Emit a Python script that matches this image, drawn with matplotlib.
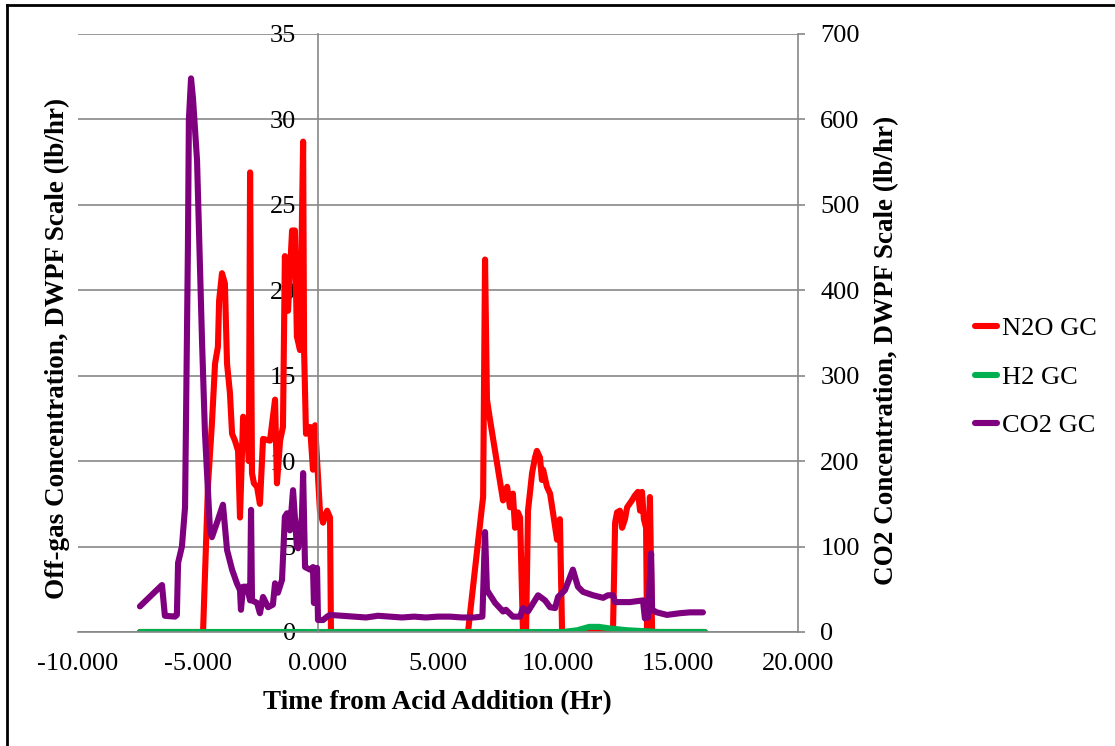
import matplotlib
matplotlib.use("Agg")
import matplotlib.pyplot as plt
from matplotlib.lines import Line2D
from matplotlib.ticker import FormatStrFormatter, MultipleLocator

plt.rcParams["font.family"] = ["Liberation Serif", "DejaVu Serif"]
plt.rcParams["axes.unicode_minus"] = False

# N2O off-gas rate (lb/hr), left axis
n2o_t = [-7.42, -4.79, -4.58, -4.42, -4.29, -4.17, -4.12, -4.00, -3.88, -3.79,
         -3.67, -3.58, -3.46, -3.33, -3.25, -3.12, -2.96, -2.88, -2.83, -2.75,
         -2.67, -2.54, -2.42, -2.29, -2.00, -1.79, -1.71, -1.58, -1.46, -1.38,
         -1.25, -1.08, -0.96, -0.88, -0.75, -0.62, -0.58, -0.50, -0.33, -0.21,
         -0.12, 0.08, 0.21, 0.38, 0.50, 0.54, 6.25, 6.83, 6.88, 6.96,
         7.04, 7.17, 7.71, 7.88, 8.00, 8.12, 8.21, 8.33, 8.42, 8.54,
         8.67, 8.75, 8.92, 9.04, 9.12, 9.25, 9.33, 9.38, 9.54, 9.67,
         9.79, 9.96, 10.08, 10.17, 12.29, 12.38, 12.46, 12.58, 12.67, 12.79,
         12.88, 13.08, 13.21, 13.33, 13.42, 13.50, 13.58, 13.67, 13.71, 13.83,
         13.92, 16.12]
n2o_v = [0.0, 0.0, 8.7, 12.2, 15.7, 16.7, 19.4, 21.0, 20.4, 15.7,
         14.0, 11.6, 11.2, 10.6, 6.7, 12.6, 12.2, 10.0, 26.9, 9.3,
         8.7, 8.5, 7.5, 11.3, 11.2, 13.6, 8.7, 11.2, 12.0, 22.0,
         18.8, 23.5, 23.5, 17.3, 16.5, 28.7, 16.5, 11.6, 12.0, 9.5,
         12.1, 7.1, 6.4, 7.1, 6.7, 0.0, 0.0, 7.3, 7.9, 21.8,
         13.6, 12.4, 7.7, 8.5, 7.3, 8.1, 6.1, 7.0, 6.7, 0.0,
         0.0, 7.1, 9.3, 10.2, 10.6, 10.2, 8.9, 9.5, 8.5, 8.1,
         7.0, 5.4, 6.6, 0.0, 0.0, 6.4, 7.0, 7.1, 6.1, 6.6,
         7.3, 7.7, 8.0, 8.2, 7.1, 8.2, 6.6, 6.1, 0.0, 7.9,
         0.0, 0.0]

# H2 off-gas rate (lb/hr), left axis
h2_t = [-7.42, 10.2, 10.8, 11.3, 11.7, 12.2, 12.9, 13.6, 14.2, 16.12]
h2_v = [0.0, 0.0, 0.1, 0.3, 0.3, 0.2, 0.1, 0.05, 0.0, 0.0]

# CO2 off-gas rate (lb/hr), right axis
co2_t = [-7.42, -6.50, -6.38, -5.96, -5.88, -5.83, -5.67, -5.54, -5.42, -5.38,
         -5.29, -5.21, -5.04, -4.83, -4.71, -4.50, -4.42, -4.21, -3.96, -3.79,
         -3.58, -3.38, -3.25, -3.21, -3.12, -2.96, -2.83, -2.79, -2.75, -2.54,
         -2.42, -2.29, -2.08, -1.88, -1.79, -1.67, -1.50, -1.38, -1.29, -1.17,
         -1.04, -0.88, -0.83, -0.67, -0.62, -0.54, -0.33, -0.21, -0.17, -0.04,
         0.00, 0.21, 0.38, 0.50, 1.0, 1.5, 2.0, 2.5, 3.0, 3.5,
         4.0, 4.5, 5.0, 5.5, 6.0, 6.5, 6.85, 6.96, 7.04, 7.38,
         7.71, 7.83, 8.12, 8.42, 8.54, 8.75, 9.17, 9.46, 9.67, 9.88,
         10.00, 10.29, 10.62, 10.83, 11.04, 11.46, 11.88, 12.08, 12.29, 12.38,
         13.00, 13.54, 13.62, 13.75, 13.88, 13.92, 14.12, 14.54, 15.08, 15.50,
         16.04]
co2_v = [30, 55, 19, 18, 20, 81, 100, 146, 450, 600,
         648, 625, 552, 338, 233, 119, 111, 128, 149, 96,
         73, 57, 49, 26, 53, 53, 37, 143, 37, 34,
         22, 41, 29, 32, 57, 46, 61, 135, 139, 119,
         166, 100, 98, 135, 186, 76, 73, 76, 34, 75,
         14, 14, 18, 20, 19, 18, 17, 19, 18, 17,
         18, 17, 18, 18, 17, 17, 18, 117, 49, 34,
         24, 26, 18, 18, 28, 24, 43, 37, 29, 28,
         41, 49, 73, 53, 47, 43, 40, 43, 43, 35,
         35, 37, 16, 17, 92, 26, 23, 20, 22, 23,
         23]

left_ticks = list(range(0, 36, 5))
right_ticks = list(range(0, 701, 100))

GRID = "#878787"
LW = 4.4
FS_TICK = 19
FS_LABEL = 19.5

fig = plt.figure(figsize=(11.15, 7.46), dpi=100)
ax = fig.add_axes([78 / 1115, 1 - 632 / 746, 720 / 1115, 598 / 746])
ax2 = ax.twinx()

style = dict(lw=LW, solid_joinstyle="round", solid_capstyle="round")
ax.plot(n2o_t, n2o_v, color="#ff0000", label="N2O GC", **style)
ax.plot(h2_t, h2_v, color="#00b050", label="H2 GC", **style)
ax2.plot(co2_t, co2_v, color="#7f007f", label="CO2 GC", **style)

ax.set_xlim(-10, 20)
ax.set_ylim(0, 35)
ax2.set_ylim(0, 700)
ax.xaxis.set_major_locator(MultipleLocator(5))
ax.xaxis.set_major_formatter(FormatStrFormatter("%.3f"))
ax.set_yticks(left_ticks)
ax2.set_yticks(right_ticks)

ax.grid(axis="y", color=GRID, lw=1.2)
ax.set_axisbelow(True)

for s in ("top", "right"):
    ax.spines[s].set_visible(False)
for s in ("top", "left", "bottom"):
    ax2.spines[s].set_visible(False)
ax.spines["left"].set_position(("data", 0))
ax.spines["left"].set_color(GRID)
ax.spines["left"].set_linewidth(1.2)
ax.spines["bottom"].set_color(GRID)
ax.spines["bottom"].set_linewidth(1.2)
ax2.spines["right"].set_color(GRID)
ax2.spines["right"].set_linewidth(1.2)

ax.tick_params(axis="x", length=0, pad=15, labelsize=FS_TICK)
ax.tick_params(axis="y", length=0, pad=16, labelsize=FS_TICK)
ax2.tick_params(axis="y", length=5, width=1.2, color=GRID, pad=11, labelsize=FS_TICK)

fig.text(437 / 1115, 1 - 703 / 746, "Time from Acid Addition (Hr)",
         ha="center", va="center", fontsize=FS_LABEL, fontweight="bold")
fig.text(57 / 1115, 1 - 348 / 746, "Off-gas Concentration, DWPF Scale (lb/hr)",
         ha="center", va="center", rotation=90, fontsize=FS_LABEL, fontweight="bold")
fig.text(887 / 1115, 1 - 350 / 746, "CO2 Concentration, DWPF Scale (lb/hr)",
         ha="center", va="center", rotation=90, fontsize=FS_LABEL, fontweight="bold")

handles = ax.get_lines() + ax2.get_lines()
fig.legend(handles, [h.get_label() for h in handles],
           loc="center left", bbox_to_anchor=(951 / 1115, 1 - 377 / 746),
           frameon=False, fontsize=FS_TICK, handlelength=0.85, handletextpad=0.2,
           labelspacing=0.95)

# outer frame
fig.add_artist(Line2D([7 / 1115, 7 / 1115], [0, 1 - 5 / 746], color="black",
                      lw=2, transform=fig.transFigure))
fig.add_artist(Line2D([7 / 1115, 1], [1 - 5 / 746, 1 - 5 / 746], color="black",
                      lw=2, transform=fig.transFigure))

fig.savefig("out.png", dpi=100)
